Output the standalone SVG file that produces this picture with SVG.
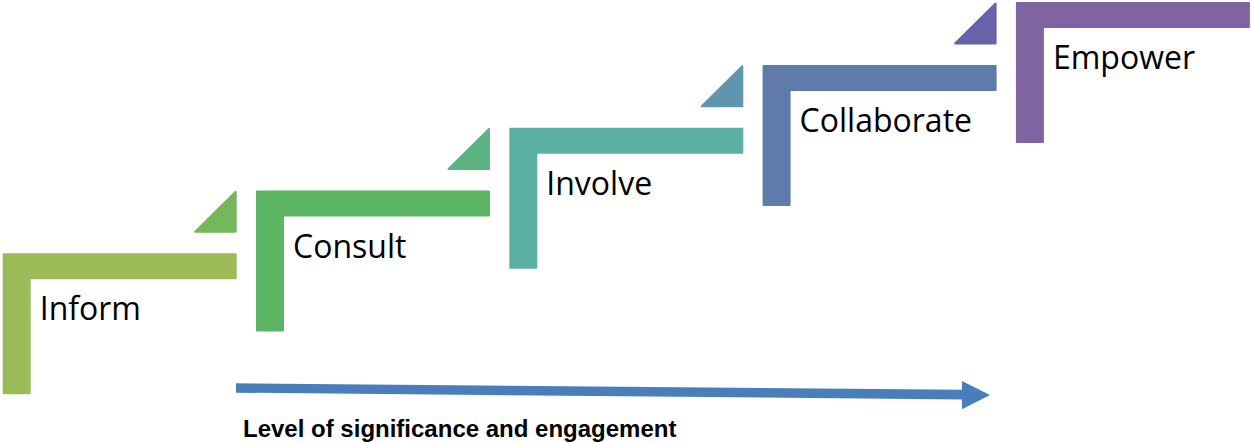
<svg xmlns="http://www.w3.org/2000/svg" width="1252" height="442" viewBox="0 0 1252 442">
  <style>
    .step { stroke-width: 2; stroke-linejoin: round; }
    .label { font-family: "Open Sans", "Noto Sans", sans-serif; font-size: 32px; fill: #000; }
    .caption { font-family: "Liberation Sans", Arial, sans-serif; font-size: 24px; font-weight: bold; fill: #000; }
  </style>
  <defs>
    <!-- L-shaped stair step, drawn 1px inside its outline so the round-joined stroke softens the corners -->
    <path id="stair" d="M1,1 H233 V25 H27 V140 H1 Z"/>
    <!-- small wedge sitting above the right end of a step -->
    <path id="wedge" d="M192.5,-21.5 H233 V-61.5 Z"/>
  </defs>

  <rect width="1252" height="442" fill="#fff"/>

  <g id="inform" transform="translate(2.7,253.3)">
    <use href="#stair" class="step" fill="#9BBB59" stroke="#9BBB59"/>
    <use href="#wedge" class="step" fill="#74B85C" stroke="#74B85C"/>
    <text class="label" x="37" y="67">Inform</text>
  </g>

  <g id="consult" transform="translate(256,190.5)">
    <use href="#stair" class="step" fill="#5CB562" stroke="#5CB562"/>
    <use href="#wedge" class="step" fill="#5DB381" stroke="#5DB381"/>
    <text class="label" x="37" y="67">Consult</text>
  </g>

  <g id="involve" transform="translate(509.3,127.7)">
    <use href="#stair" class="step" fill="#5DB0A6" stroke="#5DB0A6"/>
    <use href="#wedge" class="step" fill="#6096AD" stroke="#6096AD"/>
    <text class="label" x="37" y="67">Involve</text>
  </g>

  <g id="collaborate" transform="translate(762.6,64.9)">
    <use href="#stair" class="step" fill="#5F7BAC" stroke="#5F7BAC"/>
    <use href="#wedge" class="step" fill="#6862A8" stroke="#6862A8"/>
    <text class="label" x="37" y="67">Collaborate</text>
  </g>

  <g id="empower" transform="translate(1015.9,2.1)">
    <use href="#stair" class="step" fill="#8064A2" stroke="#8064A2"/>
    <text class="label" x="37" y="67">Empower</text>
  </g>

  <g id="connectors">
    <polygon points="236,383.3 962,389.8 962,381 990,395 962,409.3 962,399.4 236,392.7" fill="#4A7EBB"/>
  </g>

  <text class="caption" x="243" y="437">Level of significance and engagement</text>
</svg>
